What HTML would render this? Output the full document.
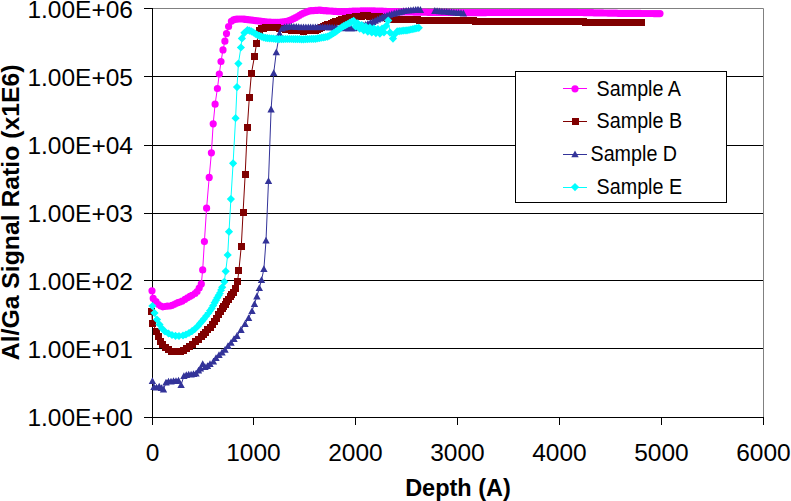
<!DOCTYPE html>
<html><head><meta charset="utf-8"><style>
html,body{margin:0;padding:0;background:#fff;width:791px;height:501px;overflow:hidden}
svg{display:block;font-family:"Liberation Sans",sans-serif}
</style></head><body>
<svg width="791" height="501" viewBox="0 0 791 501">
<rect width="791" height="501" fill="#fff"/>
<path d="M152 76.5H763" stroke="#000" stroke-width="1"/>
<path d="M152 145.5H763" stroke="#000" stroke-width="1"/>
<path d="M152 213.5H763" stroke="#000" stroke-width="1"/>
<path d="M152 280.5H763" stroke="#000" stroke-width="1"/>
<path d="M152 348.5H763" stroke="#000" stroke-width="1"/>
<path d="M152 8.5H763.5V417" fill="none" stroke="#808080" stroke-width="1"/>
<path d="M144 8.5H152" stroke="#000" stroke-width="1"/>
<path d="M144 76.5H152" stroke="#000" stroke-width="1"/>
<path d="M144 145.5H152" stroke="#000" stroke-width="1"/>
<path d="M144 213.5H152" stroke="#000" stroke-width="1"/>
<path d="M144 280.5H152" stroke="#000" stroke-width="1"/>
<path d="M144 348.5H152" stroke="#000" stroke-width="1"/>
<path d="M144 417.5H152" stroke="#000" stroke-width="1"/>
<path d="M152.5 417V425" stroke="#000" stroke-width="1"/>
<path d="M253.5 417V425" stroke="#000" stroke-width="1"/>
<path d="M355.5 417V425" stroke="#000" stroke-width="1"/>
<path d="M457.5 417V425" stroke="#000" stroke-width="1"/>
<path d="M559.5 417V425" stroke="#000" stroke-width="1"/>
<path d="M661.5 417V425" stroke="#000" stroke-width="1"/>
<path d="M763.5 417V425" stroke="#000" stroke-width="1"/>
<path d="M152.5 8V425" stroke="#000" stroke-width="1"/>
<path d="M144 417.5H764" stroke="#000" stroke-width="1"/>
<polyline fill="none" stroke="#FF00FF" stroke-width="1" stroke-linejoin="round" points="152,290.8 153.2,298.4 156,301.5 158.5,304.5 160.8,306 162.8,306.8 165,306.5 167.5,306.2 170,306 172,305.3 174,304.5 176,303.5 178,302.7 180,302 182,301.2 185,299.3 187.5,297.8 190,296.3 192,295.3 195,293.5 197.1,291.5 199.2,288 201.3,283.9 202.7,269.9 204.4,241.6 206.6,208.2 209.2,177.4 211.4,152.8 213.2,123.8 215.1,104.2 217.4,88.5 219.3,74 221,61.5 223,49.9 224.9,41.2 226.5,33.6 228.6,26.5 231.4,21.3 233.5,19.8 235.5,19.4 237.5,19.1 239.5,19 241.5,19 243.5,19.2 245.5,19.4 247.5,19.6 249.5,19.8 251.5,20.1 253.5,20.3 255.5,20.6 257.5,20.8 259.5,21 261.5,21.3 263.5,21.5 265.5,21.8 267.5,22 269.5,22.2 271.5,22.3 273.5,22.3 275.5,22.3 277.6,22.3 279.6,22.3 281.6,22.1 283.6,21.9 285.6,21.5 287.6,21 289.6,20.4 291.6,19.6 293.6,18.7 295.6,17.7 297.6,16.5 299.6,15.3 301.6,14.2 303.6,13.2 305.6,12.3 307.6,11.6 309.6,10.9 311.6,10.7 313.6,10.6 315.6,10.4 317.6,10.3 319.6,10.2 321.6,10.4 323.6,10.6 325.6,10.7 327.6,10.9 329.6,11 331.6,11.2 333.6,11.3 335.6,11.4 337.6,11.6 339.6,11.7 341.6,11.8 343.6,11.7 345.6,11.6 347.6,11.5 349.6,11.4 351.6,11.3 353.6,11.2 355.6,11.1 357.6,11.1 359.6,11 361.7,10.9 363.7,10.9 365.7,10.8 367.7,10.8 369.7,10.9 371.7,10.9 373.7,10.9 375.7,11 377.7,11 379.7,11.1 381.7,11.2 383.7,11.3 385.7,11.4 387.7,11.5 389.7,11.6 391.7,11.6 393.7,11.7 395.7,11.7 397.7,11.8 399.7,11.8 401.7,11.8 403.7,11.9 405.7,11.9 407.7,12 409.7,12 411.7,12 413.7,12.1 415.7,12.1 417.7,12.2 419.7,12.2 421.7,12.2 423.7,12.2 425.7,12.2 427.7,12.3 429.7,12.3 431.7,12.3 433.7,12.3 435.7,12.3 437.7,12.3 439.7,12.4 441.7,12.4 443.7,12.4 445.7,12.4 447.8,12.4 449.8,12.4 451.8,12.5 453.8,12.5 455.8,12.5 457.8,12.5 459.8,12.5 461.8,12.5 463.8,12.6 465.8,12.6 467.8,12.6 469.8,12.6 471.8,12.6 473.8,12.6 475.8,12.6 477.8,12.6 479.8,12.6 481.8,12.6 483.8,12.6 485.8,12.6 487.8,12.5 489.8,12.5 491.8,12.5 493.8,12.5 495.8,12.5 497.8,12.5 499.8,12.5 501.8,12.5 503.8,12.5 505.8,12.5 507.8,12.5 509.8,12.5 511.8,12.5 513.8,12.5 515.8,12.5 517.8,12.5 519.8,12.5 521.8,12.4 523.8,12.4 525.8,12.4 527.8,12.4 529.8,12.4 531.8,12.4 533.9,12.4 535.9,12.4 537.9,12.4 539.9,12.4 541.9,12.4 543.9,12.4 545.9,12.4 547.9,12.4 549.9,12.4 551.9,12.4 553.9,12.3 555.9,12.3 557.9,12.3 559.9,12.3 561.9,12.3 563.9,12.3 565.9,12.3 567.9,12.3 569.9,12.3 571.9,12.3 573.9,12.4 575.9,12.4 577.9,12.5 579.9,12.5 581.9,12.5 583.9,12.6 585.9,12.6 587.9,12.7 589.9,12.7 591.9,12.7 593.9,12.8 595.9,12.8 597.9,12.9 599.9,12.9 601.9,12.9 603.9,13 605.9,13 607.9,13.1 609.9,13.1 611.9,13.1 613.9,13.2 615.9,13.2 618,13.3 620,13.3 622,13.3 624,13.3 626,13.3 628,13.4 630,13.4 632,13.4 634,13.4 636,13.4 638,13.4 640,13.4 642,13.5 644,13.5 646,13.5 648,13.5 650,13.5 652,13.5 654,13.6 656,13.6 658,13.6 660,13.6"/>
<path fill="#FF00FF" d="M148.4 290.8a3.6 3.6 0 1 0 7.2 0a3.6 3.6 0 1 0 -7.2 0M149.6 298.4a3.6 3.6 0 1 0 7.2 0a3.6 3.6 0 1 0 -7.2 0M152.4 301.5a3.6 3.6 0 1 0 7.2 0a3.6 3.6 0 1 0 -7.2 0M154.9 304.5a3.6 3.6 0 1 0 7.2 0a3.6 3.6 0 1 0 -7.2 0M157.2 306a3.6 3.6 0 1 0 7.2 0a3.6 3.6 0 1 0 -7.2 0M159.2 306.8a3.6 3.6 0 1 0 7.2 0a3.6 3.6 0 1 0 -7.2 0M161.4 306.5a3.6 3.6 0 1 0 7.2 0a3.6 3.6 0 1 0 -7.2 0M163.9 306.2a3.6 3.6 0 1 0 7.2 0a3.6 3.6 0 1 0 -7.2 0M166.4 306a3.6 3.6 0 1 0 7.2 0a3.6 3.6 0 1 0 -7.2 0M168.4 305.3a3.6 3.6 0 1 0 7.2 0a3.6 3.6 0 1 0 -7.2 0M170.4 304.5a3.6 3.6 0 1 0 7.2 0a3.6 3.6 0 1 0 -7.2 0M172.4 303.5a3.6 3.6 0 1 0 7.2 0a3.6 3.6 0 1 0 -7.2 0M174.4 302.7a3.6 3.6 0 1 0 7.2 0a3.6 3.6 0 1 0 -7.2 0M176.4 302a3.6 3.6 0 1 0 7.2 0a3.6 3.6 0 1 0 -7.2 0M178.4 301.2a3.6 3.6 0 1 0 7.2 0a3.6 3.6 0 1 0 -7.2 0M181.4 299.3a3.6 3.6 0 1 0 7.2 0a3.6 3.6 0 1 0 -7.2 0M183.9 297.8a3.6 3.6 0 1 0 7.2 0a3.6 3.6 0 1 0 -7.2 0M186.4 296.3a3.6 3.6 0 1 0 7.2 0a3.6 3.6 0 1 0 -7.2 0M188.4 295.3a3.6 3.6 0 1 0 7.2 0a3.6 3.6 0 1 0 -7.2 0M191.4 293.5a3.6 3.6 0 1 0 7.2 0a3.6 3.6 0 1 0 -7.2 0M193.5 291.5a3.6 3.6 0 1 0 7.2 0a3.6 3.6 0 1 0 -7.2 0M195.6 288a3.6 3.6 0 1 0 7.2 0a3.6 3.6 0 1 0 -7.2 0M197.7 283.9a3.6 3.6 0 1 0 7.2 0a3.6 3.6 0 1 0 -7.2 0M199.1 269.9a3.6 3.6 0 1 0 7.2 0a3.6 3.6 0 1 0 -7.2 0M200.8 241.6a3.6 3.6 0 1 0 7.2 0a3.6 3.6 0 1 0 -7.2 0M203 208.2a3.6 3.6 0 1 0 7.2 0a3.6 3.6 0 1 0 -7.2 0M205.6 177.4a3.6 3.6 0 1 0 7.2 0a3.6 3.6 0 1 0 -7.2 0M207.8 152.8a3.6 3.6 0 1 0 7.2 0a3.6 3.6 0 1 0 -7.2 0M209.6 123.8a3.6 3.6 0 1 0 7.2 0a3.6 3.6 0 1 0 -7.2 0M211.5 104.2a3.6 3.6 0 1 0 7.2 0a3.6 3.6 0 1 0 -7.2 0M213.8 88.5a3.6 3.6 0 1 0 7.2 0a3.6 3.6 0 1 0 -7.2 0M215.7 74a3.6 3.6 0 1 0 7.2 0a3.6 3.6 0 1 0 -7.2 0M217.4 61.5a3.6 3.6 0 1 0 7.2 0a3.6 3.6 0 1 0 -7.2 0M219.4 49.9a3.6 3.6 0 1 0 7.2 0a3.6 3.6 0 1 0 -7.2 0M221.3 41.2a3.6 3.6 0 1 0 7.2 0a3.6 3.6 0 1 0 -7.2 0M222.9 33.6a3.6 3.6 0 1 0 7.2 0a3.6 3.6 0 1 0 -7.2 0M225 26.5a3.6 3.6 0 1 0 7.2 0a3.6 3.6 0 1 0 -7.2 0M227.8 21.3a3.6 3.6 0 1 0 7.2 0a3.6 3.6 0 1 0 -7.2 0M229.9 19.8a3.6 3.6 0 1 0 7.2 0a3.6 3.6 0 1 0 -7.2 0M231.9 19.4a3.6 3.6 0 1 0 7.2 0a3.6 3.6 0 1 0 -7.2 0M233.9 19.1a3.6 3.6 0 1 0 7.2 0a3.6 3.6 0 1 0 -7.2 0M235.9 19a3.6 3.6 0 1 0 7.2 0a3.6 3.6 0 1 0 -7.2 0M237.9 19a3.6 3.6 0 1 0 7.2 0a3.6 3.6 0 1 0 -7.2 0M239.9 19.2a3.6 3.6 0 1 0 7.2 0a3.6 3.6 0 1 0 -7.2 0M241.9 19.4a3.6 3.6 0 1 0 7.2 0a3.6 3.6 0 1 0 -7.2 0M243.9 19.6a3.6 3.6 0 1 0 7.2 0a3.6 3.6 0 1 0 -7.2 0M245.9 19.8a3.6 3.6 0 1 0 7.2 0a3.6 3.6 0 1 0 -7.2 0M247.9 20.1a3.6 3.6 0 1 0 7.2 0a3.6 3.6 0 1 0 -7.2 0M249.9 20.3a3.6 3.6 0 1 0 7.2 0a3.6 3.6 0 1 0 -7.2 0M251.9 20.6a3.6 3.6 0 1 0 7.2 0a3.6 3.6 0 1 0 -7.2 0M253.9 20.8a3.6 3.6 0 1 0 7.2 0a3.6 3.6 0 1 0 -7.2 0M255.9 21a3.6 3.6 0 1 0 7.2 0a3.6 3.6 0 1 0 -7.2 0M257.9 21.3a3.6 3.6 0 1 0 7.2 0a3.6 3.6 0 1 0 -7.2 0M259.9 21.5a3.6 3.6 0 1 0 7.2 0a3.6 3.6 0 1 0 -7.2 0M261.9 21.8a3.6 3.6 0 1 0 7.2 0a3.6 3.6 0 1 0 -7.2 0M263.9 22a3.6 3.6 0 1 0 7.2 0a3.6 3.6 0 1 0 -7.2 0M265.9 22.2a3.6 3.6 0 1 0 7.2 0a3.6 3.6 0 1 0 -7.2 0M267.9 22.3a3.6 3.6 0 1 0 7.2 0a3.6 3.6 0 1 0 -7.2 0M269.9 22.3a3.6 3.6 0 1 0 7.2 0a3.6 3.6 0 1 0 -7.2 0M271.9 22.3a3.6 3.6 0 1 0 7.2 0a3.6 3.6 0 1 0 -7.2 0M274 22.3a3.6 3.6 0 1 0 7.2 0a3.6 3.6 0 1 0 -7.2 0M276 22.3a3.6 3.6 0 1 0 7.2 0a3.6 3.6 0 1 0 -7.2 0M278 22.1a3.6 3.6 0 1 0 7.2 0a3.6 3.6 0 1 0 -7.2 0M280 21.9a3.6 3.6 0 1 0 7.2 0a3.6 3.6 0 1 0 -7.2 0M282 21.5a3.6 3.6 0 1 0 7.2 0a3.6 3.6 0 1 0 -7.2 0M284 21a3.6 3.6 0 1 0 7.2 0a3.6 3.6 0 1 0 -7.2 0M286 20.4a3.6 3.6 0 1 0 7.2 0a3.6 3.6 0 1 0 -7.2 0M288 19.6a3.6 3.6 0 1 0 7.2 0a3.6 3.6 0 1 0 -7.2 0M290 18.7a3.6 3.6 0 1 0 7.2 0a3.6 3.6 0 1 0 -7.2 0M292 17.7a3.6 3.6 0 1 0 7.2 0a3.6 3.6 0 1 0 -7.2 0M294 16.5a3.6 3.6 0 1 0 7.2 0a3.6 3.6 0 1 0 -7.2 0M296 15.3a3.6 3.6 0 1 0 7.2 0a3.6 3.6 0 1 0 -7.2 0M298 14.2a3.6 3.6 0 1 0 7.2 0a3.6 3.6 0 1 0 -7.2 0M300 13.2a3.6 3.6 0 1 0 7.2 0a3.6 3.6 0 1 0 -7.2 0M302 12.3a3.6 3.6 0 1 0 7.2 0a3.6 3.6 0 1 0 -7.2 0M304 11.6a3.6 3.6 0 1 0 7.2 0a3.6 3.6 0 1 0 -7.2 0M306 10.9a3.6 3.6 0 1 0 7.2 0a3.6 3.6 0 1 0 -7.2 0M308 10.7a3.6 3.6 0 1 0 7.2 0a3.6 3.6 0 1 0 -7.2 0M310 10.6a3.6 3.6 0 1 0 7.2 0a3.6 3.6 0 1 0 -7.2 0M312 10.4a3.6 3.6 0 1 0 7.2 0a3.6 3.6 0 1 0 -7.2 0M314 10.3a3.6 3.6 0 1 0 7.2 0a3.6 3.6 0 1 0 -7.2 0M316 10.2a3.6 3.6 0 1 0 7.2 0a3.6 3.6 0 1 0 -7.2 0M318 10.4a3.6 3.6 0 1 0 7.2 0a3.6 3.6 0 1 0 -7.2 0M320 10.6a3.6 3.6 0 1 0 7.2 0a3.6 3.6 0 1 0 -7.2 0M322 10.7a3.6 3.6 0 1 0 7.2 0a3.6 3.6 0 1 0 -7.2 0M324 10.9a3.6 3.6 0 1 0 7.2 0a3.6 3.6 0 1 0 -7.2 0M326 11a3.6 3.6 0 1 0 7.2 0a3.6 3.6 0 1 0 -7.2 0M328 11.2a3.6 3.6 0 1 0 7.2 0a3.6 3.6 0 1 0 -7.2 0M330 11.3a3.6 3.6 0 1 0 7.2 0a3.6 3.6 0 1 0 -7.2 0M332 11.4a3.6 3.6 0 1 0 7.2 0a3.6 3.6 0 1 0 -7.2 0M334 11.6a3.6 3.6 0 1 0 7.2 0a3.6 3.6 0 1 0 -7.2 0M336 11.7a3.6 3.6 0 1 0 7.2 0a3.6 3.6 0 1 0 -7.2 0M338 11.8a3.6 3.6 0 1 0 7.2 0a3.6 3.6 0 1 0 -7.2 0M340 11.7a3.6 3.6 0 1 0 7.2 0a3.6 3.6 0 1 0 -7.2 0M342 11.6a3.6 3.6 0 1 0 7.2 0a3.6 3.6 0 1 0 -7.2 0M344 11.5a3.6 3.6 0 1 0 7.2 0a3.6 3.6 0 1 0 -7.2 0M346 11.4a3.6 3.6 0 1 0 7.2 0a3.6 3.6 0 1 0 -7.2 0M348 11.3a3.6 3.6 0 1 0 7.2 0a3.6 3.6 0 1 0 -7.2 0M350 11.2a3.6 3.6 0 1 0 7.2 0a3.6 3.6 0 1 0 -7.2 0M352 11.1a3.6 3.6 0 1 0 7.2 0a3.6 3.6 0 1 0 -7.2 0M354 11.1a3.6 3.6 0 1 0 7.2 0a3.6 3.6 0 1 0 -7.2 0M356 11a3.6 3.6 0 1 0 7.2 0a3.6 3.6 0 1 0 -7.2 0M358.1 10.9a3.6 3.6 0 1 0 7.2 0a3.6 3.6 0 1 0 -7.2 0M360.1 10.9a3.6 3.6 0 1 0 7.2 0a3.6 3.6 0 1 0 -7.2 0M362.1 10.8a3.6 3.6 0 1 0 7.2 0a3.6 3.6 0 1 0 -7.2 0M364.1 10.8a3.6 3.6 0 1 0 7.2 0a3.6 3.6 0 1 0 -7.2 0M366.1 10.9a3.6 3.6 0 1 0 7.2 0a3.6 3.6 0 1 0 -7.2 0M368.1 10.9a3.6 3.6 0 1 0 7.2 0a3.6 3.6 0 1 0 -7.2 0M370.1 10.9a3.6 3.6 0 1 0 7.2 0a3.6 3.6 0 1 0 -7.2 0M372.1 11a3.6 3.6 0 1 0 7.2 0a3.6 3.6 0 1 0 -7.2 0M374.1 11a3.6 3.6 0 1 0 7.2 0a3.6 3.6 0 1 0 -7.2 0M376.1 11.1a3.6 3.6 0 1 0 7.2 0a3.6 3.6 0 1 0 -7.2 0M378.1 11.2a3.6 3.6 0 1 0 7.2 0a3.6 3.6 0 1 0 -7.2 0M380.1 11.3a3.6 3.6 0 1 0 7.2 0a3.6 3.6 0 1 0 -7.2 0M382.1 11.4a3.6 3.6 0 1 0 7.2 0a3.6 3.6 0 1 0 -7.2 0M384.1 11.5a3.6 3.6 0 1 0 7.2 0a3.6 3.6 0 1 0 -7.2 0M386.1 11.6a3.6 3.6 0 1 0 7.2 0a3.6 3.6 0 1 0 -7.2 0M388.1 11.6a3.6 3.6 0 1 0 7.2 0a3.6 3.6 0 1 0 -7.2 0M390.1 11.7a3.6 3.6 0 1 0 7.2 0a3.6 3.6 0 1 0 -7.2 0M392.1 11.7a3.6 3.6 0 1 0 7.2 0a3.6 3.6 0 1 0 -7.2 0M394.1 11.8a3.6 3.6 0 1 0 7.2 0a3.6 3.6 0 1 0 -7.2 0M396.1 11.8a3.6 3.6 0 1 0 7.2 0a3.6 3.6 0 1 0 -7.2 0M398.1 11.8a3.6 3.6 0 1 0 7.2 0a3.6 3.6 0 1 0 -7.2 0M400.1 11.9a3.6 3.6 0 1 0 7.2 0a3.6 3.6 0 1 0 -7.2 0M402.1 11.9a3.6 3.6 0 1 0 7.2 0a3.6 3.6 0 1 0 -7.2 0M404.1 12a3.6 3.6 0 1 0 7.2 0a3.6 3.6 0 1 0 -7.2 0M406.1 12a3.6 3.6 0 1 0 7.2 0a3.6 3.6 0 1 0 -7.2 0M408.1 12a3.6 3.6 0 1 0 7.2 0a3.6 3.6 0 1 0 -7.2 0M410.1 12.1a3.6 3.6 0 1 0 7.2 0a3.6 3.6 0 1 0 -7.2 0M412.1 12.1a3.6 3.6 0 1 0 7.2 0a3.6 3.6 0 1 0 -7.2 0M414.1 12.2a3.6 3.6 0 1 0 7.2 0a3.6 3.6 0 1 0 -7.2 0M416.1 12.2a3.6 3.6 0 1 0 7.2 0a3.6 3.6 0 1 0 -7.2 0M418.1 12.2a3.6 3.6 0 1 0 7.2 0a3.6 3.6 0 1 0 -7.2 0M420.1 12.2a3.6 3.6 0 1 0 7.2 0a3.6 3.6 0 1 0 -7.2 0M422.1 12.2a3.6 3.6 0 1 0 7.2 0a3.6 3.6 0 1 0 -7.2 0M424.1 12.3a3.6 3.6 0 1 0 7.2 0a3.6 3.6 0 1 0 -7.2 0M426.1 12.3a3.6 3.6 0 1 0 7.2 0a3.6 3.6 0 1 0 -7.2 0M428.1 12.3a3.6 3.6 0 1 0 7.2 0a3.6 3.6 0 1 0 -7.2 0M430.1 12.3a3.6 3.6 0 1 0 7.2 0a3.6 3.6 0 1 0 -7.2 0M432.1 12.3a3.6 3.6 0 1 0 7.2 0a3.6 3.6 0 1 0 -7.2 0M434.1 12.3a3.6 3.6 0 1 0 7.2 0a3.6 3.6 0 1 0 -7.2 0M436.1 12.4a3.6 3.6 0 1 0 7.2 0a3.6 3.6 0 1 0 -7.2 0M438.1 12.4a3.6 3.6 0 1 0 7.2 0a3.6 3.6 0 1 0 -7.2 0M440.1 12.4a3.6 3.6 0 1 0 7.2 0a3.6 3.6 0 1 0 -7.2 0M442.1 12.4a3.6 3.6 0 1 0 7.2 0a3.6 3.6 0 1 0 -7.2 0M444.2 12.4a3.6 3.6 0 1 0 7.2 0a3.6 3.6 0 1 0 -7.2 0M446.2 12.4a3.6 3.6 0 1 0 7.2 0a3.6 3.6 0 1 0 -7.2 0M448.2 12.5a3.6 3.6 0 1 0 7.2 0a3.6 3.6 0 1 0 -7.2 0M450.2 12.5a3.6 3.6 0 1 0 7.2 0a3.6 3.6 0 1 0 -7.2 0M452.2 12.5a3.6 3.6 0 1 0 7.2 0a3.6 3.6 0 1 0 -7.2 0M454.2 12.5a3.6 3.6 0 1 0 7.2 0a3.6 3.6 0 1 0 -7.2 0M456.2 12.5a3.6 3.6 0 1 0 7.2 0a3.6 3.6 0 1 0 -7.2 0M458.2 12.5a3.6 3.6 0 1 0 7.2 0a3.6 3.6 0 1 0 -7.2 0M460.2 12.6a3.6 3.6 0 1 0 7.2 0a3.6 3.6 0 1 0 -7.2 0M462.2 12.6a3.6 3.6 0 1 0 7.2 0a3.6 3.6 0 1 0 -7.2 0M464.2 12.6a3.6 3.6 0 1 0 7.2 0a3.6 3.6 0 1 0 -7.2 0M466.2 12.6a3.6 3.6 0 1 0 7.2 0a3.6 3.6 0 1 0 -7.2 0M468.2 12.6a3.6 3.6 0 1 0 7.2 0a3.6 3.6 0 1 0 -7.2 0M470.2 12.6a3.6 3.6 0 1 0 7.2 0a3.6 3.6 0 1 0 -7.2 0M472.2 12.6a3.6 3.6 0 1 0 7.2 0a3.6 3.6 0 1 0 -7.2 0M474.2 12.6a3.6 3.6 0 1 0 7.2 0a3.6 3.6 0 1 0 -7.2 0M476.2 12.6a3.6 3.6 0 1 0 7.2 0a3.6 3.6 0 1 0 -7.2 0M478.2 12.6a3.6 3.6 0 1 0 7.2 0a3.6 3.6 0 1 0 -7.2 0M480.2 12.6a3.6 3.6 0 1 0 7.2 0a3.6 3.6 0 1 0 -7.2 0M482.2 12.6a3.6 3.6 0 1 0 7.2 0a3.6 3.6 0 1 0 -7.2 0M484.2 12.5a3.6 3.6 0 1 0 7.2 0a3.6 3.6 0 1 0 -7.2 0M486.2 12.5a3.6 3.6 0 1 0 7.2 0a3.6 3.6 0 1 0 -7.2 0M488.2 12.5a3.6 3.6 0 1 0 7.2 0a3.6 3.6 0 1 0 -7.2 0M490.2 12.5a3.6 3.6 0 1 0 7.2 0a3.6 3.6 0 1 0 -7.2 0M492.2 12.5a3.6 3.6 0 1 0 7.2 0a3.6 3.6 0 1 0 -7.2 0M494.2 12.5a3.6 3.6 0 1 0 7.2 0a3.6 3.6 0 1 0 -7.2 0M496.2 12.5a3.6 3.6 0 1 0 7.2 0a3.6 3.6 0 1 0 -7.2 0M498.2 12.5a3.6 3.6 0 1 0 7.2 0a3.6 3.6 0 1 0 -7.2 0M500.2 12.5a3.6 3.6 0 1 0 7.2 0a3.6 3.6 0 1 0 -7.2 0M502.2 12.5a3.6 3.6 0 1 0 7.2 0a3.6 3.6 0 1 0 -7.2 0M504.2 12.5a3.6 3.6 0 1 0 7.2 0a3.6 3.6 0 1 0 -7.2 0M506.2 12.5a3.6 3.6 0 1 0 7.2 0a3.6 3.6 0 1 0 -7.2 0M508.2 12.5a3.6 3.6 0 1 0 7.2 0a3.6 3.6 0 1 0 -7.2 0M510.2 12.5a3.6 3.6 0 1 0 7.2 0a3.6 3.6 0 1 0 -7.2 0M512.2 12.5a3.6 3.6 0 1 0 7.2 0a3.6 3.6 0 1 0 -7.2 0M514.2 12.5a3.6 3.6 0 1 0 7.2 0a3.6 3.6 0 1 0 -7.2 0M516.2 12.5a3.6 3.6 0 1 0 7.2 0a3.6 3.6 0 1 0 -7.2 0M518.2 12.4a3.6 3.6 0 1 0 7.2 0a3.6 3.6 0 1 0 -7.2 0M520.2 12.4a3.6 3.6 0 1 0 7.2 0a3.6 3.6 0 1 0 -7.2 0M522.2 12.4a3.6 3.6 0 1 0 7.2 0a3.6 3.6 0 1 0 -7.2 0M524.2 12.4a3.6 3.6 0 1 0 7.2 0a3.6 3.6 0 1 0 -7.2 0M526.2 12.4a3.6 3.6 0 1 0 7.2 0a3.6 3.6 0 1 0 -7.2 0M528.2 12.4a3.6 3.6 0 1 0 7.2 0a3.6 3.6 0 1 0 -7.2 0M530.3 12.4a3.6 3.6 0 1 0 7.2 0a3.6 3.6 0 1 0 -7.2 0M532.3 12.4a3.6 3.6 0 1 0 7.2 0a3.6 3.6 0 1 0 -7.2 0M534.3 12.4a3.6 3.6 0 1 0 7.2 0a3.6 3.6 0 1 0 -7.2 0M536.3 12.4a3.6 3.6 0 1 0 7.2 0a3.6 3.6 0 1 0 -7.2 0M538.3 12.4a3.6 3.6 0 1 0 7.2 0a3.6 3.6 0 1 0 -7.2 0M540.3 12.4a3.6 3.6 0 1 0 7.2 0a3.6 3.6 0 1 0 -7.2 0M542.3 12.4a3.6 3.6 0 1 0 7.2 0a3.6 3.6 0 1 0 -7.2 0M544.3 12.4a3.6 3.6 0 1 0 7.2 0a3.6 3.6 0 1 0 -7.2 0M546.3 12.4a3.6 3.6 0 1 0 7.2 0a3.6 3.6 0 1 0 -7.2 0M548.3 12.4a3.6 3.6 0 1 0 7.2 0a3.6 3.6 0 1 0 -7.2 0M550.3 12.3a3.6 3.6 0 1 0 7.2 0a3.6 3.6 0 1 0 -7.2 0M552.3 12.3a3.6 3.6 0 1 0 7.2 0a3.6 3.6 0 1 0 -7.2 0M554.3 12.3a3.6 3.6 0 1 0 7.2 0a3.6 3.6 0 1 0 -7.2 0M556.3 12.3a3.6 3.6 0 1 0 7.2 0a3.6 3.6 0 1 0 -7.2 0M558.3 12.3a3.6 3.6 0 1 0 7.2 0a3.6 3.6 0 1 0 -7.2 0M560.3 12.3a3.6 3.6 0 1 0 7.2 0a3.6 3.6 0 1 0 -7.2 0M562.3 12.3a3.6 3.6 0 1 0 7.2 0a3.6 3.6 0 1 0 -7.2 0M564.3 12.3a3.6 3.6 0 1 0 7.2 0a3.6 3.6 0 1 0 -7.2 0M566.3 12.3a3.6 3.6 0 1 0 7.2 0a3.6 3.6 0 1 0 -7.2 0M568.3 12.3a3.6 3.6 0 1 0 7.2 0a3.6 3.6 0 1 0 -7.2 0M570.3 12.4a3.6 3.6 0 1 0 7.2 0a3.6 3.6 0 1 0 -7.2 0M572.3 12.4a3.6 3.6 0 1 0 7.2 0a3.6 3.6 0 1 0 -7.2 0M574.3 12.5a3.6 3.6 0 1 0 7.2 0a3.6 3.6 0 1 0 -7.2 0M576.3 12.5a3.6 3.6 0 1 0 7.2 0a3.6 3.6 0 1 0 -7.2 0M578.3 12.5a3.6 3.6 0 1 0 7.2 0a3.6 3.6 0 1 0 -7.2 0M580.3 12.6a3.6 3.6 0 1 0 7.2 0a3.6 3.6 0 1 0 -7.2 0M582.3 12.6a3.6 3.6 0 1 0 7.2 0a3.6 3.6 0 1 0 -7.2 0M584.3 12.7a3.6 3.6 0 1 0 7.2 0a3.6 3.6 0 1 0 -7.2 0M586.3 12.7a3.6 3.6 0 1 0 7.2 0a3.6 3.6 0 1 0 -7.2 0M588.3 12.7a3.6 3.6 0 1 0 7.2 0a3.6 3.6 0 1 0 -7.2 0M590.3 12.8a3.6 3.6 0 1 0 7.2 0a3.6 3.6 0 1 0 -7.2 0M592.3 12.8a3.6 3.6 0 1 0 7.2 0a3.6 3.6 0 1 0 -7.2 0M594.3 12.9a3.6 3.6 0 1 0 7.2 0a3.6 3.6 0 1 0 -7.2 0M596.3 12.9a3.6 3.6 0 1 0 7.2 0a3.6 3.6 0 1 0 -7.2 0M598.3 12.9a3.6 3.6 0 1 0 7.2 0a3.6 3.6 0 1 0 -7.2 0M600.3 13a3.6 3.6 0 1 0 7.2 0a3.6 3.6 0 1 0 -7.2 0M602.3 13a3.6 3.6 0 1 0 7.2 0a3.6 3.6 0 1 0 -7.2 0M604.3 13.1a3.6 3.6 0 1 0 7.2 0a3.6 3.6 0 1 0 -7.2 0M606.3 13.1a3.6 3.6 0 1 0 7.2 0a3.6 3.6 0 1 0 -7.2 0M608.3 13.1a3.6 3.6 0 1 0 7.2 0a3.6 3.6 0 1 0 -7.2 0M610.3 13.2a3.6 3.6 0 1 0 7.2 0a3.6 3.6 0 1 0 -7.2 0M612.3 13.2a3.6 3.6 0 1 0 7.2 0a3.6 3.6 0 1 0 -7.2 0M614.4 13.3a3.6 3.6 0 1 0 7.2 0a3.6 3.6 0 1 0 -7.2 0M616.4 13.3a3.6 3.6 0 1 0 7.2 0a3.6 3.6 0 1 0 -7.2 0M618.4 13.3a3.6 3.6 0 1 0 7.2 0a3.6 3.6 0 1 0 -7.2 0M620.4 13.3a3.6 3.6 0 1 0 7.2 0a3.6 3.6 0 1 0 -7.2 0M622.4 13.3a3.6 3.6 0 1 0 7.2 0a3.6 3.6 0 1 0 -7.2 0M624.4 13.4a3.6 3.6 0 1 0 7.2 0a3.6 3.6 0 1 0 -7.2 0M626.4 13.4a3.6 3.6 0 1 0 7.2 0a3.6 3.6 0 1 0 -7.2 0M628.4 13.4a3.6 3.6 0 1 0 7.2 0a3.6 3.6 0 1 0 -7.2 0M630.4 13.4a3.6 3.6 0 1 0 7.2 0a3.6 3.6 0 1 0 -7.2 0M632.4 13.4a3.6 3.6 0 1 0 7.2 0a3.6 3.6 0 1 0 -7.2 0M634.4 13.4a3.6 3.6 0 1 0 7.2 0a3.6 3.6 0 1 0 -7.2 0M636.4 13.4a3.6 3.6 0 1 0 7.2 0a3.6 3.6 0 1 0 -7.2 0M638.4 13.5a3.6 3.6 0 1 0 7.2 0a3.6 3.6 0 1 0 -7.2 0M640.4 13.5a3.6 3.6 0 1 0 7.2 0a3.6 3.6 0 1 0 -7.2 0M642.4 13.5a3.6 3.6 0 1 0 7.2 0a3.6 3.6 0 1 0 -7.2 0M644.4 13.5a3.6 3.6 0 1 0 7.2 0a3.6 3.6 0 1 0 -7.2 0M646.4 13.5a3.6 3.6 0 1 0 7.2 0a3.6 3.6 0 1 0 -7.2 0M648.4 13.5a3.6 3.6 0 1 0 7.2 0a3.6 3.6 0 1 0 -7.2 0M650.4 13.6a3.6 3.6 0 1 0 7.2 0a3.6 3.6 0 1 0 -7.2 0M652.4 13.6a3.6 3.6 0 1 0 7.2 0a3.6 3.6 0 1 0 -7.2 0M654.4 13.6a3.6 3.6 0 1 0 7.2 0a3.6 3.6 0 1 0 -7.2 0M656.4 13.6a3.6 3.6 0 1 0 7.2 0a3.6 3.6 0 1 0 -7.2 0"/>
<polyline fill="none" stroke="#800000" stroke-width="1" stroke-linejoin="round" points="151.8,311.4 152.4,323.4 156.5,331 158.5,336.5 160.5,341 162,344 165,347 168,349.5 171,351 174,351.5 177,351.8 180,351.3 183,350 186,348.3 189,346.3 192,344 195,341.3 198,339 201,336.5 203,334.5 205,332.3 207.5,329.8 210,327 212,324.5 214,321.3 216,318 218,314.7 220,311.4 222,308.6 223.5,306.5 225,304.4 226.7,301.8 228.4,299.3 230,296.8 231.6,294.4 233.2,292.3 235.6,288 237.6,281.2 238.9,270.4 241.3,246 243.1,212 245.2,174.1 247.3,127.9 249.3,97.8 251.4,73.5 254.5,56.3 256.6,43.4 259.4,30 261.5,28 263.5,28 265.5,27.9 267.5,27.9 269.5,27.8 271.5,27.8 273.5,27.9 275.5,27.9 277.5,27.9 279.5,28 281.5,28.1 283.5,28.5 285.5,29 287.5,29.4 289.5,29.9 291.5,30.1 293.5,30.3 295.5,30.4 297.5,30.6 299.4,30.7 301.4,30.9 303.4,31 305.4,30.8 307.4,30.7 309.4,30.6 311.4,30.5 313.4,30.4 315.4,30.2 317.4,29.4 319.4,28.6 321.4,27.7 323.4,26.8 325.4,25.8 327.4,24.8 329.4,24 331.4,23.3 333.4,22.6 335.4,21.9 337.4,21.1 339.4,20.4 341.4,19.8 343.4,19.3 345.4,18.7 347.4,18.2 349.4,17.7 351.4,17.3 353.4,17 355.4,16.6 357.4,16.3 359.4,16.1 361.4,16 363.4,15.9 365.4,15.8 367.4,15.9 369.4,16 371.4,16.1 373.4,16.2 375.4,16.2 377.3,16.3 379.3,16.6 381.3,17 383.3,17.4 385.3,17.9 387.3,18.3 389.3,18.7 391.3,19.2 393.3,19.3 395.3,19.4 397.3,19.4 399.3,19.5 401.3,19.5 403.3,19.6 405.3,19.6 407.3,19.7 409.3,19.7 411.3,19.8 413.3,19.8 415.3,19.9 417.3,19.9 419.3,20 421.3,20 423.3,20 425.3,20.1 427.3,20.1 429.3,20.1 431.3,20.1 433.3,20.1 435.3,20.2 437.3,20.2 439.3,20.2 441.3,20.2 443.3,20.2 445.3,20.3 447.3,20.3 449.3,20.3 451.2,20.3 453.2,20.4 455.2,20.4 457.2,20.5 459.2,20.5 461.2,20.6 463.2,20.6 465.2,20.7 467.2,20.7 469.2,20.8 471.2,20.8 473.2,20.9 475.2,21 477.2,21.1 479.2,21.2 481.2,21.2 483.2,21.2 485.2,21.2 487.2,21.2 489.2,21.2 491.2,21.2 493.2,21.2 495.2,21.2 497.2,21.2 499.2,21.2 501.2,21.2 503.2,21.2 505.2,21.2 507.2,21.2 509.2,21.2 511.2,21.2 513.2,21.2 515.2,21.2 517.2,21.2 519.2,21.2 521.2,21.2 523.2,21.2 525.2,21.2 527.1,21.2 529.1,21.2 531.1,21.2 533.1,21.2 535.1,21.2 537.1,21.2 539.1,21.2 541.1,21.2 543.1,21.2 545.1,21.2 547.1,21.2 549.1,21.2 551.1,21.2 553.1,21.2 555.1,21.2 557.1,21.2 559.1,21.2 561.1,21.2 563.1,21.2 565.1,21.2 567.1,21.2 569.1,21.2 571.1,21.3 573.1,21.4 575.1,21.5 577.1,21.6 579.1,21.7 581.1,21.8 583.1,21.9 585.1,22 587.1,22.1 589.1,22.2 591.1,22.3 593.1,22.4 595.1,22.5 597.1,22.6 599.1,22.7 601.1,22.8 603,22.8 605,22.8 607,22.8 609,22.8 611,22.8 613,22.8 615,22.8 617,22.8 619,22.8 621,22.7 623,22.7 625,22.7 627,22.7 629,22.7 631,22.7 633,22.7 635,22.7 637,22.7 639,22.7 641,22.7"/>
<path fill="#800000" shape-rendering="crispEdges" d="M148.3 307.9h7v7h-7zM148.9 319.9h7v7h-7zM153 327.5h7v7h-7zM155 333h7v7h-7zM157 337.5h7v7h-7zM158.5 340.5h7v7h-7zM161.5 343.5h7v7h-7zM164.5 346h7v7h-7zM167.5 347.5h7v7h-7zM170.5 348h7v7h-7zM173.5 348.3h7v7h-7zM176.5 347.8h7v7h-7zM179.5 346.5h7v7h-7zM182.5 344.8h7v7h-7zM185.5 342.8h7v7h-7zM188.5 340.5h7v7h-7zM191.5 337.8h7v7h-7zM194.5 335.5h7v7h-7zM197.5 333h7v7h-7zM199.5 331h7v7h-7zM201.5 328.8h7v7h-7zM204 326.3h7v7h-7zM206.5 323.5h7v7h-7zM208.5 321h7v7h-7zM210.5 317.8h7v7h-7zM212.5 314.5h7v7h-7zM214.5 311.2h7v7h-7zM216.5 307.9h7v7h-7zM218.5 305.1h7v7h-7zM220 303h7v7h-7zM221.5 300.9h7v7h-7zM223.2 298.3h7v7h-7zM224.9 295.8h7v7h-7zM226.5 293.3h7v7h-7zM228.1 290.9h7v7h-7zM229.7 288.8h7v7h-7zM232.1 284.5h7v7h-7zM234.1 277.7h7v7h-7zM235.4 266.9h7v7h-7zM237.8 242.5h7v7h-7zM239.6 208.5h7v7h-7zM241.7 170.6h7v7h-7zM243.8 124.4h7v7h-7zM245.8 94.3h7v7h-7zM247.9 70h7v7h-7zM251 52.8h7v7h-7zM253.1 39.9h7v7h-7zM255.9 26.5h7v7h-7zM258 24.5h7v7h-7zM260 24.5h7v7h-7zM262 24.4h7v7h-7zM264 24.4h7v7h-7zM266 24.3h7v7h-7zM268 24.3h7v7h-7zM270 24.4h7v7h-7zM272 24.4h7v7h-7zM274 24.4h7v7h-7zM276 24.5h7v7h-7zM278 24.6h7v7h-7zM280 25h7v7h-7zM282 25.5h7v7h-7zM284 25.9h7v7h-7zM286 26.4h7v7h-7zM288 26.6h7v7h-7zM290 26.8h7v7h-7zM292 26.9h7v7h-7zM294 27.1h7v7h-7zM295.9 27.2h7v7h-7zM297.9 27.4h7v7h-7zM299.9 27.5h7v7h-7zM301.9 27.3h7v7h-7zM303.9 27.2h7v7h-7zM305.9 27.1h7v7h-7zM307.9 27h7v7h-7zM309.9 26.9h7v7h-7zM311.9 26.7h7v7h-7zM313.9 25.9h7v7h-7zM315.9 25.1h7v7h-7zM317.9 24.2h7v7h-7zM319.9 23.3h7v7h-7zM321.9 22.3h7v7h-7zM323.9 21.3h7v7h-7zM325.9 20.5h7v7h-7zM327.9 19.8h7v7h-7zM329.9 19.1h7v7h-7zM331.9 18.4h7v7h-7zM333.9 17.6h7v7h-7zM335.9 16.9h7v7h-7zM337.9 16.3h7v7h-7zM339.9 15.8h7v7h-7zM341.9 15.2h7v7h-7zM343.9 14.7h7v7h-7zM345.9 14.2h7v7h-7zM347.9 13.8h7v7h-7zM349.9 13.5h7v7h-7zM351.9 13.1h7v7h-7zM353.9 12.8h7v7h-7zM355.9 12.6h7v7h-7zM357.9 12.5h7v7h-7zM359.9 12.4h7v7h-7zM361.9 12.3h7v7h-7zM363.9 12.4h7v7h-7zM365.9 12.5h7v7h-7zM367.9 12.6h7v7h-7zM369.9 12.7h7v7h-7zM371.9 12.8h7v7h-7zM373.8 12.8h7v7h-7zM375.8 13.1h7v7h-7zM377.8 13.5h7v7h-7zM379.8 13.9h7v7h-7zM381.8 14.4h7v7h-7zM383.8 14.8h7v7h-7zM385.8 15.2h7v7h-7zM387.8 15.7h7v7h-7zM389.8 15.8h7v7h-7zM391.8 15.9h7v7h-7zM393.8 15.9h7v7h-7zM395.8 16h7v7h-7zM397.8 16h7v7h-7zM399.8 16.1h7v7h-7zM401.8 16.1h7v7h-7zM403.8 16.2h7v7h-7zM405.8 16.2h7v7h-7zM407.8 16.3h7v7h-7zM409.8 16.3h7v7h-7zM411.8 16.4h7v7h-7zM413.8 16.4h7v7h-7zM415.8 16.5h7v7h-7zM417.8 16.5h7v7h-7zM419.8 16.5h7v7h-7zM421.8 16.6h7v7h-7zM423.8 16.6h7v7h-7zM425.8 16.6h7v7h-7zM427.8 16.6h7v7h-7zM429.8 16.6h7v7h-7zM431.8 16.7h7v7h-7zM433.8 16.7h7v7h-7zM435.8 16.7h7v7h-7zM437.8 16.7h7v7h-7zM439.8 16.7h7v7h-7zM441.8 16.8h7v7h-7zM443.8 16.8h7v7h-7zM445.8 16.8h7v7h-7zM447.8 16.8h7v7h-7zM449.7 16.9h7v7h-7zM451.7 16.9h7v7h-7zM453.7 17h7v7h-7zM455.7 17h7v7h-7zM457.7 17.1h7v7h-7zM459.7 17.1h7v7h-7zM461.7 17.2h7v7h-7zM463.7 17.2h7v7h-7zM465.7 17.3h7v7h-7zM467.7 17.3h7v7h-7zM469.7 17.4h7v7h-7zM471.7 17.5h7v7h-7zM473.7 17.6h7v7h-7zM475.7 17.7h7v7h-7zM477.7 17.7h7v7h-7zM479.7 17.7h7v7h-7zM481.7 17.7h7v7h-7zM483.7 17.7h7v7h-7zM485.7 17.7h7v7h-7zM487.7 17.7h7v7h-7zM489.7 17.7h7v7h-7zM491.7 17.7h7v7h-7zM493.7 17.7h7v7h-7zM495.7 17.7h7v7h-7zM497.7 17.7h7v7h-7zM499.7 17.7h7v7h-7zM501.7 17.7h7v7h-7zM503.7 17.7h7v7h-7zM505.7 17.7h7v7h-7zM507.7 17.7h7v7h-7zM509.7 17.7h7v7h-7zM511.7 17.7h7v7h-7zM513.7 17.7h7v7h-7zM515.7 17.7h7v7h-7zM517.7 17.7h7v7h-7zM519.7 17.7h7v7h-7zM521.7 17.7h7v7h-7zM523.6 17.7h7v7h-7zM525.6 17.7h7v7h-7zM527.6 17.7h7v7h-7zM529.6 17.7h7v7h-7zM531.6 17.7h7v7h-7zM533.6 17.7h7v7h-7zM535.6 17.7h7v7h-7zM537.6 17.7h7v7h-7zM539.6 17.7h7v7h-7zM541.6 17.7h7v7h-7zM543.6 17.7h7v7h-7zM545.6 17.7h7v7h-7zM547.6 17.7h7v7h-7zM549.6 17.7h7v7h-7zM551.6 17.7h7v7h-7zM553.6 17.7h7v7h-7zM555.6 17.7h7v7h-7zM557.6 17.7h7v7h-7zM559.6 17.7h7v7h-7zM561.6 17.7h7v7h-7zM563.6 17.7h7v7h-7zM565.6 17.7h7v7h-7zM567.6 17.8h7v7h-7zM569.6 17.9h7v7h-7zM571.6 18h7v7h-7zM573.6 18.1h7v7h-7zM575.6 18.2h7v7h-7zM577.6 18.3h7v7h-7zM579.6 18.4h7v7h-7zM581.6 18.5h7v7h-7zM583.6 18.6h7v7h-7zM585.6 18.7h7v7h-7zM587.6 18.8h7v7h-7zM589.6 18.9h7v7h-7zM591.6 19h7v7h-7zM593.6 19.1h7v7h-7zM595.6 19.2h7v7h-7zM597.6 19.3h7v7h-7zM599.5 19.3h7v7h-7zM601.5 19.3h7v7h-7zM603.5 19.3h7v7h-7zM605.5 19.3h7v7h-7zM607.5 19.3h7v7h-7zM609.5 19.3h7v7h-7zM611.5 19.3h7v7h-7zM613.5 19.3h7v7h-7zM615.5 19.3h7v7h-7zM617.5 19.2h7v7h-7zM619.5 19.2h7v7h-7zM621.5 19.2h7v7h-7zM623.5 19.2h7v7h-7zM625.5 19.2h7v7h-7zM627.5 19.2h7v7h-7zM629.5 19.2h7v7h-7zM631.5 19.2h7v7h-7zM633.5 19.2h7v7h-7zM635.5 19.2h7v7h-7zM637.5 19.2h7v7h-7z"/>
<polyline fill="none" stroke="#333399" stroke-width="1" stroke-linejoin="round" points="152.4,381 154,387 156.5,387.5 159.2,386.5 161.5,388 163.5,389.5 166,382.5 168.5,381.5 171,381.5 173.5,381 176,381 178.5,380.5 181.1,385 183.9,376 186.3,375 188.7,374.5 191.1,374.5 193.5,374 196,373.5 198.5,370.5 200.5,368.5 202.7,364 205,367 207.5,366 210,364 213.4,361.4 216,358 219,355 222,352.5 225,349.6 228,346 231,342.6 234,339 237,335.8 241,329.8 245,323.9 248.6,317.9 252,310.9 254.5,303.9 256.9,296.3 259.3,288 261.5,280 263.9,269 266,240.5 268.5,180.9 271.1,109.3 273.7,73 276.3,52.2 279.5,33.5 282,28.5 284.4,27.3 286.8,26.8 289.2,26.6 291.5,26.5 293.9,26.7 296.3,26.8 298.7,27 301.1,27.1 303.5,27.2 305.9,27.2 308.3,27.2 310.6,27.2 313,27.2 315.4,27.2 317.8,27.2 320.2,27.2 322.6,27.2 325,27.2 327.4,27.2 329.7,27.3 332.1,27.5 334.5,27.6 336.9,27.8 339.3,28 341.7,28.1 344.1,28.2 346.4,28.3 348.8,28.4 351.2,28.5 353.6,28.1 356,27.5 358.4,26.9 360.8,26.3 363.2,25.6 365.5,24.6 367.9,23.7 370.3,22.8 372.7,21.9 375.1,20.7 377.5,19.5 379.9,18.4 382.2,17.3 384.6,16.3 387,15.5 389.4,14.7 391.8,14 394.2,13.3 396.6,12.7 399,12.1 401.3,11.6 403.7,11.1 406.1,10.6 408.5,10.4 410.9,10.2 413.3,9.9 415.7,9.7 418,9.5 420.4,9.8"/><polyline fill="none" stroke="#333399" stroke-width="1" stroke-linejoin="round" points="434.8,10.8 437.1,11 439.5,11.2 441.9,11.4 444.3,11.6 446.7,11.8 449.1,12 451.5,12.2 453.9,12.4 456.2,12.6 458.6,12.9 461,13.1 463.4,13.3"/>
<path fill="#333399" d="M152.4 377.3l3.7 6.8h-7.4zM154 383.3l3.7 6.8h-7.4zM156.5 383.8l3.7 6.8h-7.4zM159.2 382.8l3.7 6.8h-7.4zM161.5 384.3l3.7 6.8h-7.4zM163.5 385.8l3.7 6.8h-7.4zM166 378.8l3.7 6.8h-7.4zM168.5 377.8l3.7 6.8h-7.4zM171 377.8l3.7 6.8h-7.4zM173.5 377.3l3.7 6.8h-7.4zM176 377.3l3.7 6.8h-7.4zM178.5 376.8l3.7 6.8h-7.4zM181.1 381.3l3.7 6.8h-7.4zM183.9 372.3l3.7 6.8h-7.4zM186.3 371.3l3.7 6.8h-7.4zM188.7 370.8l3.7 6.8h-7.4zM191.1 370.8l3.7 6.8h-7.4zM193.5 370.3l3.7 6.8h-7.4zM196 369.8l3.7 6.8h-7.4zM198.5 366.8l3.7 6.8h-7.4zM200.5 364.8l3.7 6.8h-7.4zM202.7 360.3l3.7 6.8h-7.4zM205 363.3l3.7 6.8h-7.4zM207.5 362.3l3.7 6.8h-7.4zM210 360.3l3.7 6.8h-7.4zM213.4 357.7l3.7 6.8h-7.4zM216 354.3l3.7 6.8h-7.4zM219 351.3l3.7 6.8h-7.4zM222 348.8l3.7 6.8h-7.4zM225 345.9l3.7 6.8h-7.4zM228 342.3l3.7 6.8h-7.4zM231 338.9l3.7 6.8h-7.4zM234 335.3l3.7 6.8h-7.4zM237 332.1l3.7 6.8h-7.4zM241 326.1l3.7 6.8h-7.4zM245 320.2l3.7 6.8h-7.4zM248.6 314.2l3.7 6.8h-7.4zM252 307.2l3.7 6.8h-7.4zM254.5 300.2l3.7 6.8h-7.4zM256.9 292.6l3.7 6.8h-7.4zM259.3 284.3l3.7 6.8h-7.4zM261.5 276.3l3.7 6.8h-7.4zM263.9 265.3l3.7 6.8h-7.4zM266 236.8l3.7 6.8h-7.4zM268.5 177.2l3.7 6.8h-7.4zM271.1 105.6l3.7 6.8h-7.4zM273.7 69.3l3.7 6.8h-7.4zM276.3 48.5l3.7 6.8h-7.4zM279.5 29.8l3.7 6.8h-7.4zM282 24.8l3.7 6.8h-7.4zM284.4 23.6l3.7 6.8h-7.4zM286.8 23.1l3.7 6.8h-7.4zM289.2 22.9l3.7 6.8h-7.4zM291.5 22.8l3.7 6.8h-7.4zM293.9 22.9l3.7 6.8h-7.4zM296.3 23.1l3.7 6.8h-7.4zM298.7 23.2l3.7 6.8h-7.4zM301.1 23.4l3.7 6.8h-7.4zM303.5 23.5l3.7 6.8h-7.4zM305.9 23.5l3.7 6.8h-7.4zM308.3 23.5l3.7 6.8h-7.4zM310.6 23.5l3.7 6.8h-7.4zM313 23.5l3.7 6.8h-7.4zM315.4 23.5l3.7 6.8h-7.4zM317.8 23.5l3.7 6.8h-7.4zM320.2 23.5l3.7 6.8h-7.4zM322.6 23.5l3.7 6.8h-7.4zM325 23.5l3.7 6.8h-7.4zM327.4 23.5l3.7 6.8h-7.4zM329.7 23.6l3.7 6.8h-7.4zM332.1 23.7l3.7 6.8h-7.4zM334.5 23.9l3.7 6.8h-7.4zM336.9 24.1l3.7 6.8h-7.4zM339.3 24.2l3.7 6.8h-7.4zM341.7 24.3l3.7 6.8h-7.4zM344.1 24.4l3.7 6.8h-7.4zM346.4 24.5l3.7 6.8h-7.4zM348.8 24.6l3.7 6.8h-7.4zM351.2 24.7l3.7 6.8h-7.4zM353.6 24.4l3.7 6.8h-7.4zM356 23.8l3.7 6.8h-7.4zM358.4 23.2l3.7 6.8h-7.4zM360.8 22.6l3.7 6.8h-7.4zM363.2 21.8l3.7 6.8h-7.4zM365.5 20.9l3.7 6.8h-7.4zM367.9 20l3.7 6.8h-7.4zM370.3 19.1l3.7 6.8h-7.4zM372.7 18.1l3.7 6.8h-7.4zM375.1 16.9l3.7 6.8h-7.4zM377.5 15.8l3.7 6.8h-7.4zM379.9 14.6l3.7 6.8h-7.4zM382.2 13.6l3.7 6.8h-7.4zM384.6 12.5l3.7 6.8h-7.4zM387 11.8l3.7 6.8h-7.4zM389.4 11l3.7 6.8h-7.4zM391.8 10.3l3.7 6.8h-7.4zM394.2 9.6l3.7 6.8h-7.4zM396.6 8.9l3.7 6.8h-7.4zM399 8.4l3.7 6.8h-7.4zM401.3 7.9l3.7 6.8h-7.4zM403.7 7.3l3.7 6.8h-7.4zM406.1 6.9l3.7 6.8h-7.4zM408.5 6.7l3.7 6.8h-7.4zM410.9 6.4l3.7 6.8h-7.4zM413.3 6.2l3.7 6.8h-7.4zM415.7 6l3.7 6.8h-7.4zM418 5.8l3.7 6.8h-7.4zM420.4 6.1l3.7 6.8h-7.4zM434.8 7.1l3.7 6.8h-7.4zM437.1 7.3l3.7 6.8h-7.4zM439.5 7.5l3.7 6.8h-7.4zM441.9 7.7l3.7 6.8h-7.4zM444.3 7.9l3.7 6.8h-7.4zM446.7 8l3.7 6.8h-7.4zM449.1 8.2l3.7 6.8h-7.4zM451.5 8.4l3.7 6.8h-7.4zM453.9 8.7l3.7 6.8h-7.4zM456.2 8.9l3.7 6.8h-7.4zM458.6 9.1l3.7 6.8h-7.4zM461 9.3l3.7 6.8h-7.4zM463.4 9.6l3.7 6.8h-7.4z"/>
<polyline fill="none" stroke="#00FFFF" stroke-width="1" stroke-linejoin="round" points="152.4,306 154.5,313 157,319.5 159.5,324.5 162,328.5 165,331.5 168.5,333.5 172,335 175.5,335.8 179,336 183,335.5 186,334.5 189,333 192,331.2 195,328.8 198,326 200,323.5 202,321.2 204,318.8 206.2,316 208.3,313.2 210,310.8 211.8,308.3 213.2,305.5 214.6,302.7 216,300.2 217.3,297.8 218.7,295.3 220.1,292.9 221.2,290 222.2,287.3 224.3,281.8 225.7,271.3 227.7,255 229,231.7 230.9,199.1 233.1,163.3 235.6,118.2 237,87.1 238.4,63.6 240.9,47.5 241.9,38.4 244.4,32.8 247.5,30 249.5,30.7 251.5,31.3 253.5,32.5 255.5,33.8 257.5,35 259.5,35.8 261.5,36.6 263.5,37.4 265.5,37.8 267.5,38.1 269.5,38.3 271.5,38.5 273.5,38.7 275.5,39 277.5,39.1 279.5,39.1 281.5,39.1 283.5,39.1 285.5,39 287.5,39 289.5,39 291.5,39 293.5,39.1 295.5,39.1 297.5,39.2 299.6,39.2 301.6,39.3 303.6,39.3 305.6,39.2 307.6,39.1 309.6,39 311.6,38.9 313.6,38.9 315.6,38.8 317.6,38.4 319.6,38.1 321.6,37.7 323.6,37.4 325.6,37 327.6,36.7 329.6,35.6 331.6,34.4 333.6,33.1 335.6,31.9 337.6,30.4 339.6,28.8 341.6,27.3 343.6,26.1 345.6,25.1 347.6,24 349.6,22.9 351.6,21.8 353.6,20.8 355.6,26.5 357.7,23.3 359.7,28.6 361.7,25 363.7,30.3 365.8,26.7 367.8,31.6 369.8,27.6 371.8,32.4 373.9,28.4 375.9,33.1 377.9,29 379.9,33.6 382,28.7 384,32.4 386,26 388.2,20.6 390,32.6 393,38.6 395,34 397.2,31.4 399.2,31.2 401.1,31 403.1,30.7 405.1,30.5 407,30.3 409,30 410.9,29.5 412.9,29.1 414.9,28.7 416.8,28.2 418.8,27.8"/>
<path fill="#00FFFF" d="M152.4 301.9l4.1 4.1l-4.1 4.1l-4.1 -4.1zM154.5 308.9l4.1 4.1l-4.1 4.1l-4.1 -4.1zM157 315.4l4.1 4.1l-4.1 4.1l-4.1 -4.1zM159.5 320.4l4.1 4.1l-4.1 4.1l-4.1 -4.1zM162 324.4l4.1 4.1l-4.1 4.1l-4.1 -4.1zM165 327.4l4.1 4.1l-4.1 4.1l-4.1 -4.1zM168.5 329.4l4.1 4.1l-4.1 4.1l-4.1 -4.1zM172 330.9l4.1 4.1l-4.1 4.1l-4.1 -4.1zM175.5 331.7l4.1 4.1l-4.1 4.1l-4.1 -4.1zM179 331.9l4.1 4.1l-4.1 4.1l-4.1 -4.1zM183 331.4l4.1 4.1l-4.1 4.1l-4.1 -4.1zM186 330.4l4.1 4.1l-4.1 4.1l-4.1 -4.1zM189 328.9l4.1 4.1l-4.1 4.1l-4.1 -4.1zM192 327.1l4.1 4.1l-4.1 4.1l-4.1 -4.1zM195 324.7l4.1 4.1l-4.1 4.1l-4.1 -4.1zM198 321.9l4.1 4.1l-4.1 4.1l-4.1 -4.1zM200 319.4l4.1 4.1l-4.1 4.1l-4.1 -4.1zM202 317.1l4.1 4.1l-4.1 4.1l-4.1 -4.1zM204 314.7l4.1 4.1l-4.1 4.1l-4.1 -4.1zM206.2 311.9l4.1 4.1l-4.1 4.1l-4.1 -4.1zM208.3 309.1l4.1 4.1l-4.1 4.1l-4.1 -4.1zM210 306.7l4.1 4.1l-4.1 4.1l-4.1 -4.1zM211.8 304.2l4.1 4.1l-4.1 4.1l-4.1 -4.1zM213.2 301.4l4.1 4.1l-4.1 4.1l-4.1 -4.1zM214.6 298.6l4.1 4.1l-4.1 4.1l-4.1 -4.1zM216 296.1l4.1 4.1l-4.1 4.1l-4.1 -4.1zM217.3 293.7l4.1 4.1l-4.1 4.1l-4.1 -4.1zM218.7 291.2l4.1 4.1l-4.1 4.1l-4.1 -4.1zM220.1 288.8l4.1 4.1l-4.1 4.1l-4.1 -4.1zM221.2 285.9l4.1 4.1l-4.1 4.1l-4.1 -4.1zM222.2 283.2l4.1 4.1l-4.1 4.1l-4.1 -4.1zM224.3 277.7l4.1 4.1l-4.1 4.1l-4.1 -4.1zM225.7 267.2l4.1 4.1l-4.1 4.1l-4.1 -4.1zM227.7 250.9l4.1 4.1l-4.1 4.1l-4.1 -4.1zM229 227.6l4.1 4.1l-4.1 4.1l-4.1 -4.1zM230.9 195l4.1 4.1l-4.1 4.1l-4.1 -4.1zM233.1 159.2l4.1 4.1l-4.1 4.1l-4.1 -4.1zM235.6 114.1l4.1 4.1l-4.1 4.1l-4.1 -4.1zM237 83l4.1 4.1l-4.1 4.1l-4.1 -4.1zM238.4 59.5l4.1 4.1l-4.1 4.1l-4.1 -4.1zM240.9 43.4l4.1 4.1l-4.1 4.1l-4.1 -4.1zM241.9 34.3l4.1 4.1l-4.1 4.1l-4.1 -4.1zM244.4 28.7l4.1 4.1l-4.1 4.1l-4.1 -4.1zM247.5 25.9l4.1 4.1l-4.1 4.1l-4.1 -4.1zM249.5 26.6l4.1 4.1l-4.1 4.1l-4.1 -4.1zM251.5 27.2l4.1 4.1l-4.1 4.1l-4.1 -4.1zM253.5 28.4l4.1 4.1l-4.1 4.1l-4.1 -4.1zM255.5 29.7l4.1 4.1l-4.1 4.1l-4.1 -4.1zM257.5 30.9l4.1 4.1l-4.1 4.1l-4.1 -4.1zM259.5 31.7l4.1 4.1l-4.1 4.1l-4.1 -4.1zM261.5 32.5l4.1 4.1l-4.1 4.1l-4.1 -4.1zM263.5 33.3l4.1 4.1l-4.1 4.1l-4.1 -4.1zM265.5 33.7l4.1 4.1l-4.1 4.1l-4.1 -4.1zM267.5 34l4.1 4.1l-4.1 4.1l-4.1 -4.1zM269.5 34.2l4.1 4.1l-4.1 4.1l-4.1 -4.1zM271.5 34.4l4.1 4.1l-4.1 4.1l-4.1 -4.1zM273.5 34.6l4.1 4.1l-4.1 4.1l-4.1 -4.1zM275.5 34.9l4.1 4.1l-4.1 4.1l-4.1 -4.1zM277.5 35l4.1 4.1l-4.1 4.1l-4.1 -4.1zM279.5 35l4.1 4.1l-4.1 4.1l-4.1 -4.1zM281.5 35l4.1 4.1l-4.1 4.1l-4.1 -4.1zM283.5 35l4.1 4.1l-4.1 4.1l-4.1 -4.1zM285.5 34.9l4.1 4.1l-4.1 4.1l-4.1 -4.1zM287.5 34.9l4.1 4.1l-4.1 4.1l-4.1 -4.1zM289.5 34.9l4.1 4.1l-4.1 4.1l-4.1 -4.1zM291.5 34.9l4.1 4.1l-4.1 4.1l-4.1 -4.1zM293.5 35l4.1 4.1l-4.1 4.1l-4.1 -4.1zM295.5 35l4.1 4.1l-4.1 4.1l-4.1 -4.1zM297.5 35.1l4.1 4.1l-4.1 4.1l-4.1 -4.1zM299.6 35.1l4.1 4.1l-4.1 4.1l-4.1 -4.1zM301.6 35.2l4.1 4.1l-4.1 4.1l-4.1 -4.1zM303.6 35.2l4.1 4.1l-4.1 4.1l-4.1 -4.1zM305.6 35.1l4.1 4.1l-4.1 4.1l-4.1 -4.1zM307.6 35l4.1 4.1l-4.1 4.1l-4.1 -4.1zM309.6 34.9l4.1 4.1l-4.1 4.1l-4.1 -4.1zM311.6 34.8l4.1 4.1l-4.1 4.1l-4.1 -4.1zM313.6 34.8l4.1 4.1l-4.1 4.1l-4.1 -4.1zM315.6 34.7l4.1 4.1l-4.1 4.1l-4.1 -4.1zM317.6 34.3l4.1 4.1l-4.1 4.1l-4.1 -4.1zM319.6 34l4.1 4.1l-4.1 4.1l-4.1 -4.1zM321.6 33.6l4.1 4.1l-4.1 4.1l-4.1 -4.1zM323.6 33.3l4.1 4.1l-4.1 4.1l-4.1 -4.1zM325.6 32.9l4.1 4.1l-4.1 4.1l-4.1 -4.1zM327.6 32.6l4.1 4.1l-4.1 4.1l-4.1 -4.1zM329.6 31.5l4.1 4.1l-4.1 4.1l-4.1 -4.1zM331.6 30.3l4.1 4.1l-4.1 4.1l-4.1 -4.1zM333.6 29l4.1 4.1l-4.1 4.1l-4.1 -4.1zM335.6 27.8l4.1 4.1l-4.1 4.1l-4.1 -4.1zM337.6 26.3l4.1 4.1l-4.1 4.1l-4.1 -4.1zM339.6 24.7l4.1 4.1l-4.1 4.1l-4.1 -4.1zM341.6 23.2l4.1 4.1l-4.1 4.1l-4.1 -4.1zM343.6 22l4.1 4.1l-4.1 4.1l-4.1 -4.1zM345.6 21l4.1 4.1l-4.1 4.1l-4.1 -4.1zM347.6 19.9l4.1 4.1l-4.1 4.1l-4.1 -4.1zM349.6 18.8l4.1 4.1l-4.1 4.1l-4.1 -4.1zM351.6 17.7l4.1 4.1l-4.1 4.1l-4.1 -4.1zM353.6 16.7l4.1 4.1l-4.1 4.1l-4.1 -4.1zM355.6 22.4l4.1 4.1l-4.1 4.1l-4.1 -4.1zM357.7 19.2l4.1 4.1l-4.1 4.1l-4.1 -4.1zM359.7 24.5l4.1 4.1l-4.1 4.1l-4.1 -4.1zM361.7 20.9l4.1 4.1l-4.1 4.1l-4.1 -4.1zM363.7 26.2l4.1 4.1l-4.1 4.1l-4.1 -4.1zM365.8 22.6l4.1 4.1l-4.1 4.1l-4.1 -4.1zM367.8 27.5l4.1 4.1l-4.1 4.1l-4.1 -4.1zM369.8 23.5l4.1 4.1l-4.1 4.1l-4.1 -4.1zM371.8 28.3l4.1 4.1l-4.1 4.1l-4.1 -4.1zM373.9 24.3l4.1 4.1l-4.1 4.1l-4.1 -4.1zM375.9 29l4.1 4.1l-4.1 4.1l-4.1 -4.1zM377.9 24.9l4.1 4.1l-4.1 4.1l-4.1 -4.1zM379.9 29.5l4.1 4.1l-4.1 4.1l-4.1 -4.1zM382 24.6l4.1 4.1l-4.1 4.1l-4.1 -4.1zM384 28.3l4.1 4.1l-4.1 4.1l-4.1 -4.1zM386 21.9l4.1 4.1l-4.1 4.1l-4.1 -4.1zM388.2 16.5l4.1 4.1l-4.1 4.1l-4.1 -4.1zM390 28.5l4.1 4.1l-4.1 4.1l-4.1 -4.1zM393 34.5l4.1 4.1l-4.1 4.1l-4.1 -4.1zM395 29.9l4.1 4.1l-4.1 4.1l-4.1 -4.1zM397.2 27.3l4.1 4.1l-4.1 4.1l-4.1 -4.1zM399.2 27.1l4.1 4.1l-4.1 4.1l-4.1 -4.1zM401.1 26.9l4.1 4.1l-4.1 4.1l-4.1 -4.1zM403.1 26.6l4.1 4.1l-4.1 4.1l-4.1 -4.1zM405.1 26.4l4.1 4.1l-4.1 4.1l-4.1 -4.1zM407 26.2l4.1 4.1l-4.1 4.1l-4.1 -4.1zM409 25.9l4.1 4.1l-4.1 4.1l-4.1 -4.1zM410.9 25.4l4.1 4.1l-4.1 4.1l-4.1 -4.1zM412.9 25l4.1 4.1l-4.1 4.1l-4.1 -4.1zM414.9 24.6l4.1 4.1l-4.1 4.1l-4.1 -4.1zM416.8 24.1l4.1 4.1l-4.1 4.1l-4.1 -4.1zM418.8 23.7l4.1 4.1l-4.1 4.1l-4.1 -4.1z"/>
<rect x="515.5" y="71.5" width="211" height="131" fill="#fff" stroke="#000" stroke-width="1"/>
<path d="M563 88.5H587" stroke="#FF00FF" stroke-width="1"/>
<path fill="#FF00FF" d="M571.4 88.8a3.6 3.6 0 1 0 7.2 0a3.6 3.6 0 1 0 -7.2 0"/>
<text transform="translate(596.6 95.8) scale(0.93 1)" font-size="21.2" fill="#000">Sample A</text>
<path d="M563 121.5H587" stroke="#800000" stroke-width="1"/>
<path fill="#800000" shape-rendering="crispEdges" d="M571.5 117.6h7v7h-7z"/>
<text transform="translate(596.6 128.1) scale(0.93 1)" font-size="21.2" fill="#000">Sample B</text>
<path d="M563 154.5H587" stroke="#333399" stroke-width="1"/>
<path fill="#333399" d="M575 150.5l3.7 6.8h-7.4z"/>
<text transform="translate(590.5 161.2) scale(0.93 1)" font-size="21.2" fill="#000">Sample D</text>
<path d="M563 187.5H587" stroke="#00FFFF" stroke-width="1"/>
<path fill="#00FFFF" d="M575 183l4.1 4.1l-4.1 4.1l-4.1 -4.1z"/>
<text transform="translate(596.6 194.1) scale(0.93 1)" font-size="21.2" fill="#000">Sample E</text>
<text x="133" y="17.6" font-size="24.5" text-anchor="end" fill="#000">1.00E+06</text>
<text x="133" y="85.6" font-size="24.5" text-anchor="end" fill="#000">1.00E+05</text>
<text x="133" y="153.7" font-size="24.5" text-anchor="end" fill="#000">1.00E+04</text>
<text x="133" y="221.7" font-size="24.5" text-anchor="end" fill="#000">1.00E+03</text>
<text x="133" y="289.7" font-size="24.5" text-anchor="end" fill="#000">1.00E+02</text>
<text x="133" y="357.8" font-size="24.5" text-anchor="end" fill="#000">1.00E+01</text>
<text x="133" y="425.8" font-size="24.5" text-anchor="end" fill="#000">1.00E+00</text>
<text x="152.5" y="461" font-size="24.5" text-anchor="middle" fill="#000">0</text>
<text x="253.5" y="461" font-size="24.5" text-anchor="middle" fill="#000">1000</text>
<text x="355.5" y="461" font-size="24.5" text-anchor="middle" fill="#000">2000</text>
<text x="457.5" y="461" font-size="24.5" text-anchor="middle" fill="#000">3000</text>
<text x="559.5" y="461" font-size="24.5" text-anchor="middle" fill="#000">4000</text>
<text x="661.5" y="461" font-size="24.5" text-anchor="middle" fill="#000">5000</text>
<text x="763.5" y="461" font-size="24.5" text-anchor="middle" fill="#000">6000</text>
<text x="458" y="496" font-size="23.5" font-weight="bold" text-anchor="middle" fill="#000">Depth (A)</text>
<text transform="translate(19 212.4) rotate(-90)" x="0" y="0" font-size="24.75" font-weight="bold" text-anchor="middle" fill="#000">Al/Ga Signal Ratio (x1E6)</text>
</svg>
</body></html>
